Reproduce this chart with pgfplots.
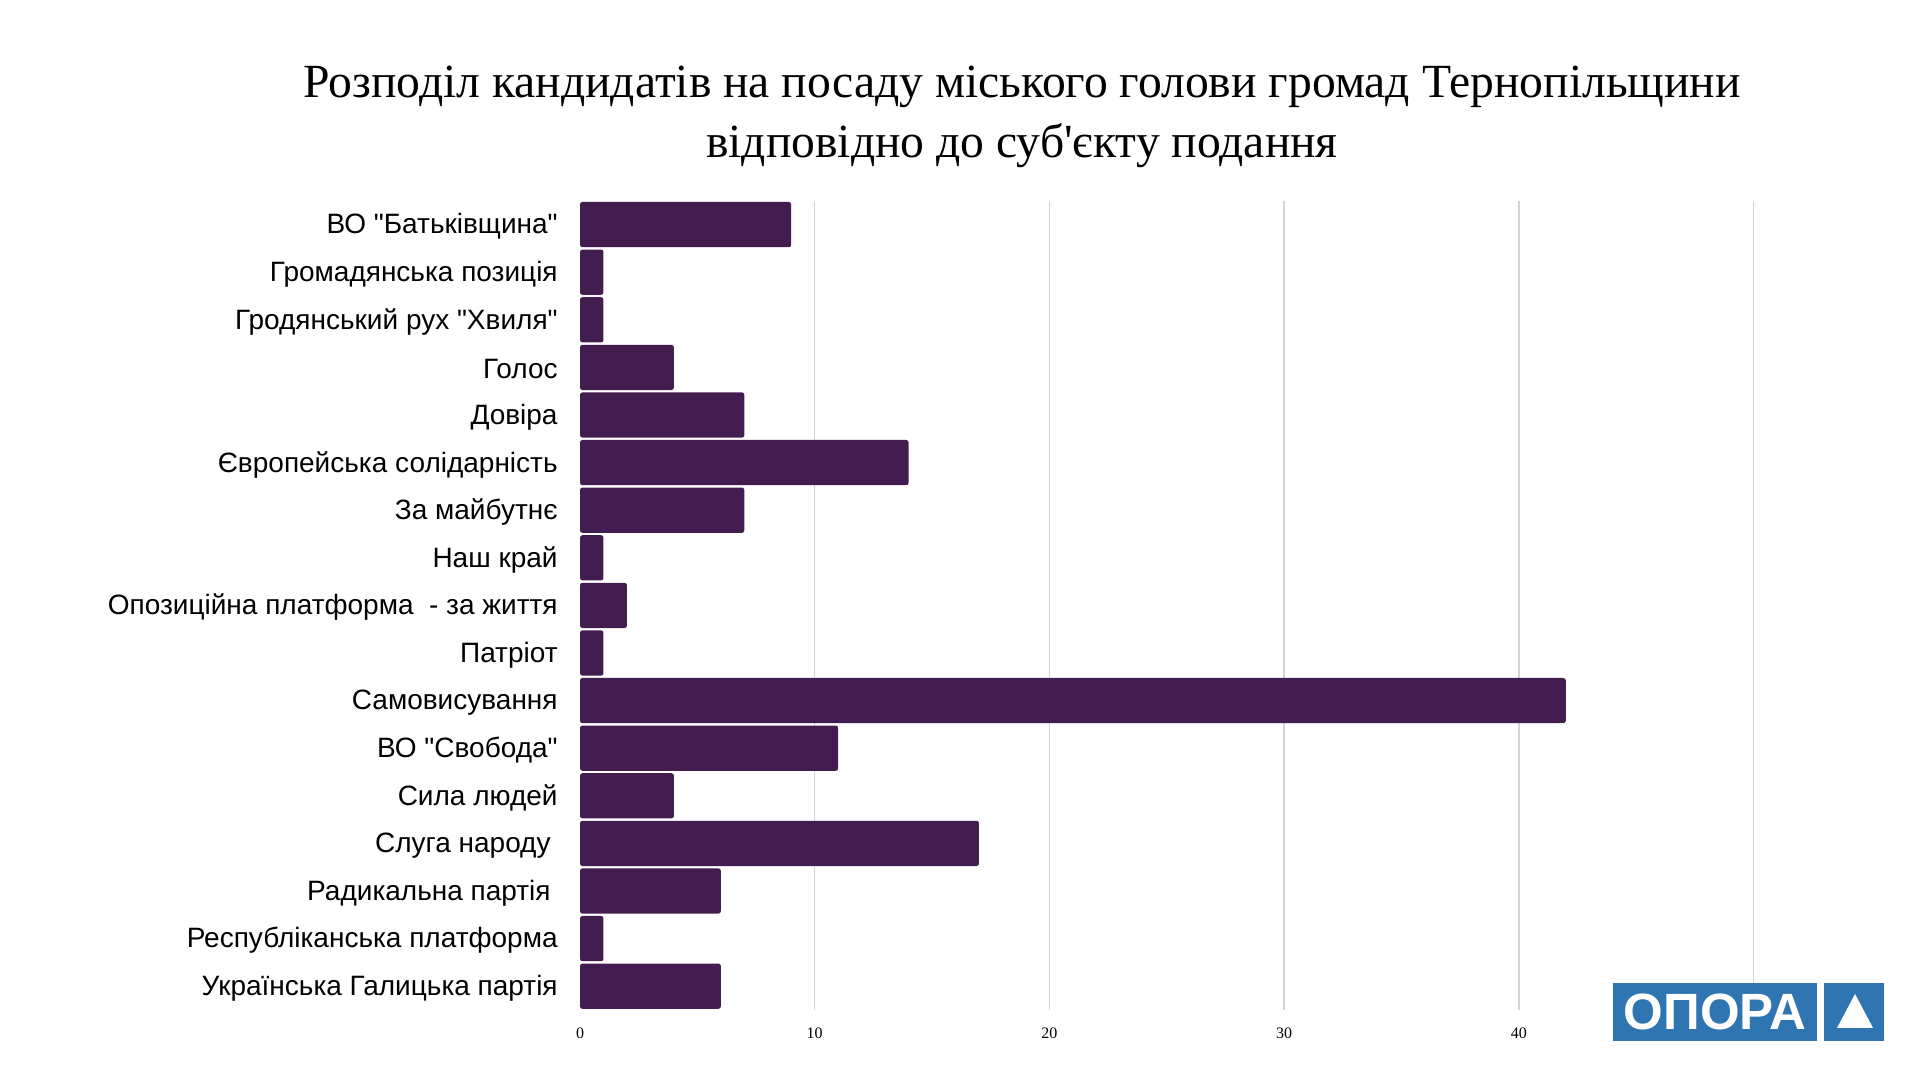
\documentclass[border=0pt]{standalone}
\usepackage{fontspec}
\setmainfont[Ligatures=TeXOff]{Liberation Sans}
\newfontfamily\titlefont[Ligatures=TeXOff]{Liberation Serif}
\newfontfamily\tickfont{Liberation Serif}
\usepackage{pgfplots}
\pgfplotsset{compat=1.18}
\definecolor{barc}{RGB}{68,29,80}
\definecolor{gridc}{RGB}{212,212,212}
\definecolor{logoblue}{RGB}{46,117,178}
\begin{document}
\begin{tikzpicture}[x=1pt,y=1pt]
\path[use as bounding box] (0,0) rectangle (960,540);
\begin{axis}[
  at={(290pt,35pt)}, anchor=south west,
  scale only axis, width=586.75pt, height=404.6pt,
  xbar, bar width=0.95, bar shift=0pt,
  xmin=0, xmax=50, ymin=-0.5, ymax=16.5, y dir=reverse,
  xtick={10,20,30,40,50}, xticklabels={10,20,30,40,{}},
  extra x ticks={0}, extra x tick labels={0}, extra x tick style={grid=none},
  ytick={0,...,16},
  yticklabels={
    ВО "Батьківщина",
    Громадянська позиція,
    Гродянський рух "Хвиля",
    Голос,
    Довіра,
    Європейська солідарність,
    За майбутнє,
    Наш край,
    Опозиційна платформа\ \ - за життя,
    Патріот,
    Самовисування,
    ВО "Свобода",
    Сила людей,
    {Слуга народу\hspace*{3.5pt}},
    {Радикальна партія\hspace*{3.5pt}},
    Республіканська платформа,
    Українська Галицька партія},
  xmajorgrids, major grid style={gridc, line width=0.7pt},
  axis line style={draw=none}, major tick length=0pt,
  /pgf/number format/assume math mode=true,
  x tick label style={font=\tickfont\fontsize{8}{8}\selectfont, yshift=-5.5pt},
  y tick label style={font=\fontsize{14}{14}\selectfont, anchor=east, inner sep=0pt, xshift=-11pt, yshift=-1pt},
]
\addplot[fill=barc, draw=none, rounded corners=1.2pt] coordinates {
  (9,0) (1,1) (1,2) (4,3) (7,4) (14,5) (7,6) (1,7) (2,8) (1,9)
  (42,10) (11,11) (4,12) (17,13) (6,14) (1,15) (6,16)};
\end{axis}
\node[font=\titlefont\fontsize{23.8}{23.8}\selectfont, anchor=base] at (511,491) {Розподіл кандидатів на посаду міського голови громад Тернопільщини};
\node[font=\titlefont\fontsize{23.8}{23.8}\selectfont, anchor=base] at (511,461) {відповідно до суб'єкту подання};
\fill[logoblue] (806.5,19.5) rectangle (908.5,48.5);
\fill[logoblue] (912,19.5) rectangle (942,48.5);
\node[text=white, font=\bfseries\fontsize{25.5}{25.5}\selectfont, inner sep=0pt] at (857.5,34) {ОПОРА};
\fill[white] (918.5,26) -- (936.5,26) -- (927.5,43) -- cycle;
\end{tikzpicture}
\end{document}
